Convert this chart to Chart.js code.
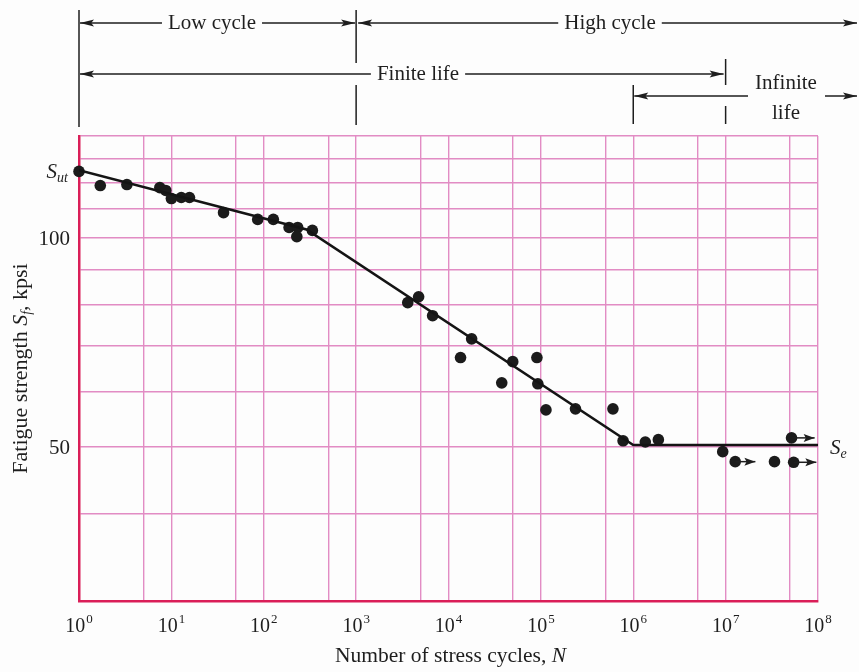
<!DOCTYPE html>
<html>
<head>
<meta charset="utf-8">
<script src="https://cdn.jsdelivr.net/npm/chart.js@4.4.1/dist/chart.umd.min.js"></script>
<style>
  html, body { margin: 0; padding: 0; background: #fdfdfd; }
  canvas { display: block; }
</style>
</head>
<body>
<canvas id="snChart" width="859" height="672"></canvas>
<script>
// test points: cycles to failure N and fatigue strength Sf (kpsi)
const cyclesN = [1, 1.7, 3.3, 7.5, 8.7, 10, 12.8, 15.7, 36.7, 86, 127, 188, 233, 228, 336,
    3620, 4750, 6730, 13500, 17800, 37700, 49600, 90600, 92700, 113500, 237000, 603000, 776000,
    1.35e6, 1.87e6, 9.3e6, 1.27e7, 3.38e7, 5.45e7, 5.17e7];
const strengthKpsi = [124.5, 118.8, 119.2, 118.0, 116.9, 113.8, 114.2, 114.2, 108.6, 106.2, 106.2, 103.4, 103.4, 100.3, 102.4,
    80.6, 82.2, 77.2, 67.2, 71.5, 61.8, 66.3, 67.2, 61.6, 56.5, 56.7, 56.7, 51.0,
    50.8, 51.2, 49.2, 47.6, 47.6, 47.5, 51.5];

// runouts (no failure) - arrow from the point to the right
const runoutN = [1.27e7, 5.45e7, 5.17e7];
const runoutToN = [2.1e7, 9.6e7, 9.2e7];
const runoutKpsi = [47.6, 47.5, 51.5];

// fitted S-N curve
const curveN = [1, 290, 1e6, 1e8];
const curveKpsi = [125, 102.7, 50.3, 50.3];

// grid and tick labels
const xGrid = [1, 5, 10, 50, 100, 500, 1e3, 5e3, 1e4, 5e4, 1e5, 5e5, 1e6, 5e6, 1e7, 5e7, 1e8];
const xTickExponents = [0, 1, 2, 3, 4, 5, 6, 7, 8];
const yGrid = [30, 40, 50, 60, 70, 80, 90, 100, 110, 120, 130, 140];
const yTickValues = [100, 50];

const SERIF = '"Liberation Serif", "DejaVu Serif", serif';
const INK = "#1e1e1e";

function font(size, italic)
{
    return (italic ? "italic " : "") + size + "px " + SERIF;
}

// draw a run of text pieces: [text, size, italic, dy]
function drawRich(ctx, parts, x, y, align)
{
    let w = 0;
    parts.forEach((p) => { ctx.font = font(p[1], p[2]); w += ctx.measureText(p[0]).width; });
    let cx = align === "center" ? x - w / 2 : (align === "right" ? x - w : x);
    parts.forEach((p) => {
        ctx.font = font(p[1], p[2]);
        ctx.fillText(p[0], cx, y + (p[3] || 0));
        cx += ctx.measureText(p[0]).width;
    });
    return w;
}

function arrowHead(ctx, x, y, dir, len, half)
{
    ctx.beginPath();
    ctx.moveTo(x, y);
    ctx.lineTo(x - dir * len, y - half);
    ctx.lineTo(x - dir * len * 0.8, y);
    ctx.lineTo(x - dir * len, y + half);
    ctx.closePath();
    ctx.fill();
}

// line from x1 to x2 with the head at x2
function hArrow(ctx, x1, x2, y, len, half)
{
    ctx.beginPath();
    ctx.moveTo(x1, y);
    ctx.lineTo(x2, y);
    ctx.stroke();
    arrowHead(ctx, x2, y, Math.sign(x2 - x1), len || 14, half || 3.5);
}

function vLine(ctx, x, y1, y2)
{
    ctx.beginPath();
    ctx.moveTo(x, y1);
    ctx.lineTo(x, y2);
    ctx.stroke();
}

// dimension label with arrows out to both ends
function spanLabel(ctx, text, cx, baseline, y, leftEnd, rightEnd)
{
    ctx.font = font(21, false);
    ctx.textAlign = "center";
    ctx.fillText(text, cx, baseline);
    const w = ctx.measureText(text).width;
    ctx.textAlign = "left";
    if (leftEnd !== null) hArrow(ctx, cx - w / 2 - 6, leftEnd, y);
    if (rightEnd !== null) hArrow(ctx, cx + w / 2 + 6, rightEnd, y);
}

const annotations = {
    id: "annotations",
    afterDatasetsDraw(chart)
    {
        const ctx = chart.ctx;
        const xs = chart.scales.x;
        const ys = chart.scales.y;
        ctx.save();
        ctx.strokeStyle = INK;
        ctx.fillStyle = INK;
        ctx.lineWidth = 1.5;
        for (let i = 0; i < runoutN.length; i++)
        {
            const y = ys.getPixelForValue(runoutKpsi[i]);
            hArrow(ctx, xs.getPixelForValue(runoutN[i]), xs.getPixelForValue(runoutToN[i]), y, 11, 4);
        }
        ctx.restore();
    },
    afterDraw(chart)
    {
        const ctx = chart.ctx;
        const xs = chart.scales.x;
        const ys = chart.scales.y;
        const area = chart.chartArea;
        ctx.save();
        ctx.fillStyle = INK;
        ctx.strokeStyle = INK;
        ctx.textBaseline = "alphabetic";

        // x tick labels 10^n
        xTickExponents.forEach((e) => {
            const x = xs.getPixelForValue(Math.pow(10, e));
            ctx.font = font(20, false);
            const w10 = ctx.measureText("10").width;
            ctx.font = font(13, false);
            const wE = ctx.measureText(String(e)).width;
            const left = x - (w10 + 1 + wE) / 2;
            ctx.font = font(20, false);
            ctx.fillText("10", left, 632);
            ctx.font = font(13, false);
            ctx.fillText(String(e), left + w10 + 1, 623);
        });

        // y tick labels
        ctx.textAlign = "right";
        ctx.font = font(21, false);
        yTickValues.forEach((v) => {
            ctx.fillText(String(v), area.left - 9, ys.getPixelForValue(v) + 7);
        });
        ctx.textAlign = "left";

        // Sut and Se
        const yUt = ys.getPixelForValue(curveKpsi[0]);
        drawRich(ctx, [["S", 21, true], ["ut", 14, true, 4]], area.left - 11, yUt + 8, "right");
        const ySe = ys.getPixelForValue(curveKpsi[curveKpsi.length - 1]);
        drawRich(ctx, [["S", 21, true], ["e", 14, true, 4]], area.right + 12, ySe + 9, "left");

        // axis titles
        drawRich(ctx, [["Number of stress cycles, ", 21.5, false], ["N", 21.5, true]], (area.left + area.right) / 2 + 2, 662, "center");
        ctx.save();
        ctx.translate(27, (area.top + area.bottom) / 2);
        ctx.rotate(-Math.PI / 2);
        drawRich(ctx, [["Fatigue strength ", 22, false], ["S", 22, true], ["f", 14, true, 4], [", kpsi", 22, false]], 0, 0, "center");
        ctx.restore();

        // life regions above the plot
        ctx.lineWidth = 1.5;
        const x0 = xs.getPixelForValue(1);
        const x3 = xs.getPixelForValue(1e3);
        const x6 = xs.getPixelForValue(1e6);
        const x7 = xs.getPixelForValue(1e7);
        vLine(ctx, x0, 10, 127);
        vLine(ctx, x3, 10, 63);
        vLine(ctx, x3, 85, 125);
        vLine(ctx, x7, 59, 85);
        vLine(ctx, x7, 106, 124);
        vLine(ctx, x6, 85, 124);

        spanLabel(ctx, "Low cycle", 212, 29, 23, x0 + 1, x3 - 1);
        spanLabel(ctx, "High cycle", 610, 29, 23, x3 + 2, 857);
        spanLabel(ctx, "Finite life", 418, 80, 74, x0 + 1, x7 - 2);

        ctx.textAlign = "center";
        ctx.font = font(21, false);
        ctx.fillText("Infinite", 786, 89);
        ctx.fillText("life", 786, 119);
        ctx.textAlign = "left";
        hArrow(ctx, 748, x6 + 1, 96);
        hArrow(ctx, 825, 857, 96);

        ctx.restore();
    }
};

const gridColor = "rgb(226, 140, 196)";
const axisColor = "rgb(218, 30, 88)";

new Chart(document.getElementById("snChart"), {
    type: "scatter",
    data: {
        datasets: [
            {
                type: "line",
                label: "S-N curve",
                data: curveN.map((n, i) => ({ x: n, y: curveKpsi[i] })),
                borderColor: "#141414",
                borderWidth: 2.6,
                pointRadius: 0,
                tension: 0,
                fill: false,
            },
            {
                label: "Test data",
                data: cyclesN.map((n, i) => ({ x: n, y: strengthKpsi[i] })),
                backgroundColor: "#1b1b1b",
                borderWidth: 0,
                pointRadius: 5.8,
                clip: false,
            },
        ],
    },
    options: {
        responsive: false,
        animation: false,
        layout: { padding: { left: 79, right: 41, top: 136, bottom: 71 } },
        plugins: {
            legend: { display: false },
            tooltip: { enabled: false },
        },
        scales: {
            x: {
                type: "logarithmic",
                min: 1,
                max: 1e8,
                bounds: "data",
                afterBuildTicks: (scale) => { scale.ticks = xGrid.map((v) => ({ value: v })); },
                ticks: { display: false },
                grid: { color: gridColor, lineWidth: 1.4, drawTicks: false },
                border: { color: axisColor, width: 2.5 },
            },
            y: {
                type: "logarithmic",
                min: 30,
                max: 140,
                bounds: "data",
                afterBuildTicks: (scale) => { scale.ticks = yGrid.map((v) => ({ value: v })); },
                ticks: { display: false },
                grid: { color: gridColor, lineWidth: 1.4, drawTicks: false },
                border: { color: axisColor, width: 2.5 },
            },
        },
    },
    plugins: [annotations],
});
</script>
</body>
</html>
